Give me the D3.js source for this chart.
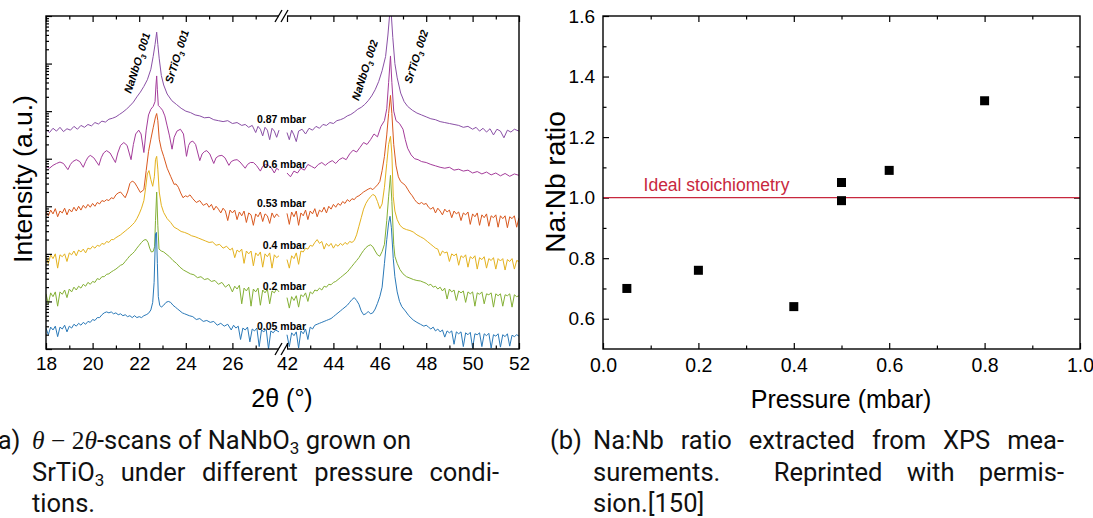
<!DOCTYPE html>
<html>
<head>
<meta charset="utf-8">
<script src="https://cdn.jsdelivr.net/npm/d3@7"></script>
<style>
body { margin: 0; background: #fff; }
svg text { font-family: "Liberation Sans", Arial, sans-serif; fill: #000; }
svg text.cap { font-family: Roboto, "Noto Sans", sans-serif; font-size: 25.5px; fill: #111; }
svg tspan.math { font-family: "Liberation Serif", "DejaVu Serif", serif; font-style: italic; }
</style>
</head>
<body>
<svg id="chart" width="1093" height="518"></svg>
<script>
// scans: [2theta (deg), log10 intensity (a.u.)]
var scan087 = [[18.0,4.62],[18.15,4.55],[18.3,4.64],[18.45,4.58],[18.6,4.66],[18.75,4.57],[18.9,4.63],[19.05,4.60],[19.2,4.68],[19.35,4.62],[19.5,4.70],[19.65,4.66],[19.8,4.72],[19.95,4.69],[20.1,4.76],[20.25,4.73],[20.4,4.79],[20.55,4.77],[20.7,4.83],[20.85,4.85],[21.0,4.88],[21.15,4.93],[21.3,4.98],[21.45,5.04],[21.6,5.11],[21.75,5.19],[21.9,5.30],[22.05,5.40],[22.2,5.52],[22.35,5.66],[22.5,5.88],[22.6,6.15],[22.68,6.40],[22.75,6.66],[22.8,6.40],[22.86,6.10],[22.95,5.75],[23.05,5.55],[23.2,5.36],[23.4,5.22],[23.6,5.14],[23.8,5.06],[24.0,5.00],[24.2,4.97],[24.4,4.92],[24.6,4.90],[24.8,4.86],[25.0,4.87],[25.2,4.82],[25.4,4.80],[25.6,4.78],[25.8,4.80],[26.0,4.74],[26.2,4.76],[26.4,4.70],[26.55,4.72],[26.7,4.66],[26.85,4.70],[27.0,4.55],[27.1,4.68],[27.2,4.62],[27.3,4.48],[27.4,4.66],[27.5,4.60],[27.6,4.40],[27.7,4.64],[27.8,4.58],[27.9,4.45],[28.0,4.60],
  [42.0,4.55],[42.1,4.40],[42.2,4.60],[42.3,4.50],[42.4,4.36],[42.5,4.58],[42.65,4.62],[42.8,4.52],[42.95,4.64],[43.1,4.60],[43.25,4.68],[43.4,4.64],[43.55,4.72],[43.7,4.70],[43.85,4.76],[44.0,4.74],[44.15,4.80],[44.3,4.82],[44.45,4.85],[44.6,4.90],[44.75,4.93],[44.9,4.98],[45.05,5.04],[45.2,5.08],[45.35,5.14],[45.5,5.22],[45.65,5.32],[45.8,5.45],[45.95,5.62],[46.1,5.85],[46.25,6.15],[46.35,6.60],[46.42,7.0],[46.46,7.3],[46.5,7.0],[46.56,6.55],[46.65,6.00],[46.75,5.70],[46.9,5.38],[47.05,5.20],[47.2,5.10],[47.4,5.02],[47.6,4.96],[47.8,4.92],[48.0,4.88],[48.2,4.84],[48.4,4.82],[48.6,4.78],[48.8,4.76],[49.0,4.74],[49.2,4.72],[49.4,4.70],[49.6,4.66],[49.8,4.68],[50.0,4.62],[50.15,4.66],[50.3,4.58],[50.45,4.64],[50.6,4.56],[50.75,4.63],[50.9,4.50],[51.05,4.62],[51.2,4.58],[51.35,4.44],[51.5,4.60],[51.65,4.56],[51.8,4.62],[52.0,4.58]];

var scan06 = [[18.0,3.84],[18.15,3.80],[18.3,3.86],[18.45,3.90],[18.6,3.93],[18.75,3.90],[18.94,3.77],[19.05,3.88],[19.15,3.94],[19.3,3.98],[19.45,3.94],[19.6,3.82],[19.7,3.94],[19.8,4.03],[19.9,4.07],[20.05,4.02],[20.27,3.86],[20.37,4.02],[20.47,4.12],[20.6,4.17],[20.75,4.12],[20.98,3.92],[21.08,4.12],[21.2,4.28],[21.34,4.34],[21.48,4.28],[21.65,3.98],[21.75,4.30],[21.85,4.52],[21.98,4.60],[22.08,4.52],[22.2,4.13],[22.3,4.60],[22.4,4.92],[22.5,5.04],[22.6,5.10],[22.68,5.20],[22.72,5.55],[22.75,5.74],[22.78,5.45],[22.82,5.12],[22.9,5.08],[23.0,5.02],[23.1,4.90],[23.2,4.69],[23.3,4.48],[23.41,4.20],[23.5,4.45],[23.62,4.58],[23.77,4.62],[23.9,4.52],[24.03,4.05],[24.12,4.28],[24.2,4.35],[24.3,4.37],[24.42,4.30],[24.6,3.96],[24.7,4.10],[24.8,4.15],[24.9,4.17],[25.03,4.10],[25.2,3.90],[25.3,4.02],[25.42,4.06],[25.55,4.07],[25.68,4.02],[25.85,3.86],[25.95,3.94],[26.07,3.97],[26.2,3.98],[26.33,3.93],[26.55,3.80],[26.65,3.88],[26.77,3.92],[26.9,3.92],[27.03,3.86],[27.2,3.74],[27.3,3.84],[27.42,3.88],[27.55,3.86],[27.68,3.80],[27.8,3.70],[27.9,3.80],[28.0,3.76],
  [42.0,3.70],[42.15,3.62],[42.3,3.74],[42.45,3.70],[42.6,3.80],[42.75,3.76],[42.9,3.88],[43.05,3.84],[43.2,3.80],[43.35,3.88],[43.5,3.92],[43.65,3.86],[43.8,3.92],[43.95,3.96],[44.1,3.90],[44.25,3.98],[44.4,4.02],[44.55,3.98],[44.7,4.10],[44.85,4.18],[45.0,4.14],[45.15,4.24],[45.3,4.34],[45.45,4.30],[45.6,4.40],[45.75,4.52],[45.9,4.46],[46.05,4.68],[46.2,4.80],[46.3,5.05],[46.38,5.60],[46.46,6.16],[46.52,5.60],[46.6,5.00],[46.7,4.80],[46.85,4.74],[47.0,4.62],[47.1,4.40],[47.2,4.22],[47.35,4.08],[47.5,4.00],[47.65,3.98],[47.8,3.94],[48.0,3.92],[48.2,3.88],[48.4,3.85],[48.6,3.82],[48.8,3.80],[49.0,3.82],[49.2,3.76],[49.4,3.78],[49.6,3.74],[49.8,3.76],[50.0,3.70],[50.2,3.73],[50.4,3.68],[50.6,3.72],[50.8,3.66],[51.0,3.70],[51.2,3.64],[51.4,3.69],[51.6,3.63],[51.8,3.68],[52.0,3.65]];

var scan053 = [[18.0,2.89],[18.1,2.80],[18.2,2.92],[18.3,2.84],[18.4,2.95],[18.5,2.78],[18.6,2.90],[18.7,2.86],[18.8,2.96],[18.9,2.82],[19.0,2.94],[19.1,2.88],[19.2,2.98],[19.3,2.90],[19.4,3.00],[19.5,2.92],[19.6,3.02],[19.7,2.96],[19.8,3.04],[19.9,2.98],[20.0,3.06],[20.1,3.00],[20.2,3.08],[20.3,3.05],[20.4,3.12],[20.5,3.10],[20.6,3.14],[20.7,3.12],[20.8,3.18],[20.9,3.16],[21.0,3.24],[21.1,3.28],[21.2,3.30],[21.3,3.24],[21.4,3.18],[21.5,3.30],[21.6,3.48],[21.7,3.53],[21.8,3.50],[21.9,3.42],[22.05,3.29],[22.2,3.35],[22.3,3.75],[22.4,4.15],[22.5,4.41],[22.6,4.65],[22.7,4.88],[22.75,4.95],[22.8,4.80],[22.86,4.41],[22.95,4.20],[23.05,4.05],[23.2,3.80],[23.35,3.63],[23.5,3.46],[23.58,3.47],[23.68,3.40],[23.78,3.28],[23.88,3.18],[23.98,3.22],[24.08,3.20],[24.18,3.24],[24.3,3.16],[24.45,3.08],[24.6,3.12],[24.75,3.02],[24.9,3.06],[25.0,2.98],[25.1,3.04],[25.2,2.92],[25.3,3.00],[25.4,2.94],[25.5,2.86],[25.6,2.96],[25.7,2.90],[25.8,2.70],[25.9,2.92],[26.0,2.86],[26.1,2.92],[26.2,2.72],[26.3,2.88],[26.4,2.80],[26.5,2.90],[26.6,2.66],[26.7,2.86],[26.8,2.82],[26.9,2.60],[27.0,2.84],[27.1,2.78],[27.2,2.88],[27.3,2.68],[27.4,2.84],[27.5,2.80],[27.6,2.64],[27.7,2.86],[27.8,2.76],[27.9,2.84],[28.0,2.78],
  [42.0,2.85],[42.1,2.62],[42.2,2.88],[42.3,2.78],[42.4,2.90],[42.5,2.60],[42.6,2.86],[42.7,2.80],[42.8,2.92],[42.9,2.72],[43.0,2.90],[43.1,2.84],[43.2,2.95],[43.3,2.78],[43.4,2.92],[43.5,2.88],[43.6,2.98],[43.7,2.86],[43.8,3.00],[43.9,2.94],[44.0,3.04],[44.1,2.98],[44.2,3.06],[44.3,3.02],[44.4,3.10],[44.5,3.06],[44.6,3.14],[44.7,3.10],[44.8,3.16],[44.9,3.14],[45.0,3.20],[45.1,3.22],[45.2,3.26],[45.3,3.30],[45.4,3.33],[45.5,3.36],[45.6,3.38],[45.7,3.35],[45.8,3.40],[45.9,3.45],[46.0,3.52],[46.1,3.75],[46.2,4.05],[46.3,4.50],[46.38,4.95],[46.46,5.33],[46.52,4.95],[46.6,4.30],[46.7,3.85],[46.8,3.62],[46.9,3.52],[47.0,3.48],[47.1,3.44],[47.2,3.36],[47.3,3.28],[47.4,3.22],[47.5,3.14],[47.6,3.08],[47.7,3.05],[47.8,3.08],[47.9,3.04],[48.0,3.06],[48.1,2.98],[48.2,2.94],[48.3,2.98],[48.4,2.86],[48.5,2.96],[48.6,2.90],[48.7,2.82],[48.8,2.94],[48.9,2.88],[49.0,2.92],[49.1,2.76],[49.2,2.90],[49.3,2.84],[49.4,2.88],[49.5,2.70],[49.6,2.86],[49.7,2.82],[49.8,2.88],[49.9,2.62],[50.0,2.84],[50.1,2.78],[50.2,2.86],[50.3,2.60],[50.4,2.82],[50.5,2.76],[50.6,2.84],[50.7,2.58],[50.8,2.80],[50.9,2.76],[51.0,2.82],[51.1,2.56],[51.2,2.80],[51.3,2.74],[51.4,2.80],[51.5,2.55],[51.6,2.78],[51.7,2.74],[51.8,2.80],[51.9,2.56],[52.0,2.76]];

var scan04 = [[18.0,1.96],[18.1,1.80],[18.2,1.98],[18.3,1.90],[18.4,2.00],[18.5,1.70],[18.6,1.98],[18.7,1.94],[18.8,2.00],[18.9,1.84],[19.0,2.02],[19.1,1.98],[19.2,2.06],[19.3,1.96],[19.4,2.08],[19.5,2.04],[19.6,2.10],[19.7,2.02],[19.8,2.12],[19.9,2.10],[20.0,2.16],[20.1,2.12],[20.2,2.18],[20.3,2.16],[20.4,2.22],[20.5,2.20],[20.6,2.26],[20.7,2.24],[20.8,2.30],[20.9,2.30],[21.0,2.34],[21.1,2.37],[21.2,2.40],[21.3,2.44],[21.4,2.48],[21.5,2.52],[21.6,2.56],[21.7,2.61],[21.8,2.66],[21.9,2.74],[22.0,2.84],[22.1,2.96],[22.2,3.12],[22.28,3.40],[22.35,3.68],[22.42,3.75],[22.5,3.56],[22.58,3.42],[22.65,3.62],[22.7,3.98],[22.75,4.05],[22.8,3.78],[22.86,3.30],[22.95,3.02],[23.05,2.87],[23.2,2.74],[23.35,2.66],[23.5,2.56],[23.65,2.52],[23.8,2.47],[23.95,2.45],[24.1,2.42],[24.25,2.38],[24.4,2.36],[24.55,2.33],[24.7,2.30],[24.85,2.27],[25.0,2.24],[25.15,2.25],[25.3,2.18],[25.45,2.20],[25.6,2.12],[25.75,2.16],[25.9,2.08],[26.0,2.12],[26.1,1.92],[26.2,2.08],[26.3,2.04],[26.4,2.10],[26.5,1.80],[26.6,2.06],[26.7,2.00],[26.8,2.06],[26.9,1.75],[27.0,2.02],[27.1,1.96],[27.2,2.04],[27.3,1.72],[27.4,2.00],[27.5,1.94],[27.6,2.02],[27.7,1.70],[27.8,1.98],[27.9,1.92],[28.0,1.96],
  [42.0,1.88],[42.1,1.70],[42.2,1.96],[42.3,1.90],[42.4,2.02],[42.5,1.78],[42.6,2.06],[42.7,2.04],[42.8,2.12],[42.9,2.10],[43.0,2.18],[43.1,2.16],[43.2,2.24],[43.3,2.30],[43.4,2.22],[43.5,2.26],[43.6,2.10],[43.7,2.22],[43.8,2.16],[43.9,2.22],[44.0,2.12],[44.1,2.20],[44.2,2.16],[44.3,2.22],[44.4,2.18],[44.5,2.24],[44.6,2.20],[44.7,2.26],[44.8,2.24],[44.9,2.28],[45.0,2.40],[45.1,2.58],[45.2,2.76],[45.3,2.94],[45.4,3.06],[45.5,3.14],[45.6,3.20],[45.7,3.25],[45.8,3.22],[45.9,3.10],[46.0,2.95],[46.1,3.05],[46.2,3.40],[46.3,3.90],[46.38,4.30],[46.46,4.47],[46.52,4.10],[46.58,3.20],[46.65,2.90],[46.75,2.72],[46.87,2.60],[47.0,2.54],[47.15,2.51],[47.3,2.49],[47.44,2.46],[47.6,2.40],[47.75,2.36],[47.9,2.32],[48.05,2.26],[48.2,2.20],[48.3,2.16],[48.4,2.12],[48.5,2.10],[48.6,1.96],[48.7,2.06],[48.8,2.02],[48.9,2.04],[49.0,1.84],[49.1,2.00],[49.2,1.96],[49.3,2.00],[49.4,1.76],[49.5,1.96],[49.6,1.92],[49.7,1.98],[49.8,1.72],[49.9,1.94],[50.0,1.90],[50.1,1.96],[50.2,1.68],[50.3,1.92],[50.4,1.88],[50.5,1.94],[50.6,1.70],[50.7,1.90],[50.8,1.86],[50.9,1.92],[51.0,1.68],[51.1,1.90],[51.2,1.85],[51.3,1.90],[51.4,1.66],[51.5,1.88],[51.6,1.84],[51.7,1.90],[51.8,1.68],[51.9,1.86],[52.0,1.84]];

var scan02 = [[18.0,1.16],[18.1,0.95],[18.2,1.18],[18.3,1.10],[18.4,1.20],[18.5,0.90],[18.6,1.20],[18.7,1.15],[18.8,1.24],[18.9,1.08],[19.0,1.26],[19.1,1.20],[19.2,1.30],[19.3,1.24],[19.4,1.32],[19.5,1.28],[19.6,1.36],[19.7,1.32],[19.8,1.40],[19.9,1.36],[20.0,1.42],[20.1,1.40],[20.2,1.48],[20.3,1.46],[20.4,1.52],[20.5,1.52],[20.6,1.57],[20.7,1.58],[20.8,1.62],[20.9,1.65],[21.0,1.68],[21.1,1.72],[21.2,1.76],[21.3,1.78],[21.4,1.84],[21.5,1.90],[21.6,1.96],[21.7,2.00],[21.8,2.05],[21.9,2.12],[22.0,2.18],[22.1,2.24],[22.2,2.29],[22.3,2.30],[22.38,2.24],[22.45,2.12],[22.52,2.04],[22.6,2.05],[22.66,2.15],[22.7,2.70],[22.75,3.30],[22.8,2.60],[22.85,2.10],[22.95,2.06],[23.05,2.04],[23.15,2.00],[23.3,1.94],[23.45,1.86],[23.6,1.80],[23.75,1.72],[23.9,1.66],[24.05,1.62],[24.2,1.58],[24.35,1.56],[24.5,1.50],[24.65,1.52],[24.8,1.46],[24.95,1.48],[25.1,1.42],[25.25,1.44],[25.4,1.36],[25.55,1.40],[25.7,1.30],[25.85,1.36],[26.0,1.20],[26.1,1.32],[26.2,1.26],[26.3,1.34],[26.4,0.95],[26.5,1.28],[26.6,1.22],[26.7,1.30],[26.8,0.90],[26.9,1.26],[27.0,1.20],[27.1,1.28],[27.2,0.92],[27.3,1.24],[27.4,1.18],[27.5,1.26],[27.6,0.95],[27.7,1.22],[27.8,1.18],[27.9,1.26],[28.0,1.20],
  [42.0,1.08],[42.1,0.86],[42.2,1.10],[42.3,1.02],[42.4,1.12],[42.5,0.88],[42.6,1.14],[42.7,1.10],[42.8,1.18],[42.9,1.00],[43.0,1.20],[43.1,1.16],[43.2,1.24],[43.3,1.22],[43.4,1.28],[43.5,1.24],[43.6,1.32],[43.7,1.30],[43.8,1.36],[43.9,1.35],[44.0,1.40],[44.1,1.42],[44.2,1.46],[44.3,1.50],[44.4,1.54],[44.5,1.58],[44.6,1.62],[44.7,1.68],[44.8,1.74],[44.9,1.80],[45.0,1.86],[45.1,1.92],[45.2,2.00],[45.3,2.07],[45.4,2.13],[45.5,2.17],[45.6,2.19],[45.7,2.15],[45.8,2.06],[45.9,1.98],[46.0,1.95],[46.1,2.05],[46.2,2.20],[46.3,2.70],[46.38,3.20],[46.46,3.65],[46.52,3.10],[46.6,2.20],[46.65,1.95],[46.75,1.80],[46.87,1.67],[47.0,1.58],[47.15,1.52],[47.3,1.49],[47.45,1.46],[47.6,1.44],[47.75,1.43],[47.9,1.40],[48.0,1.38],[48.1,1.34],[48.2,1.36],[48.3,1.30],[48.4,1.32],[48.5,1.26],[48.6,1.30],[48.7,1.22],[48.8,1.28],[48.9,1.05],[49.0,1.26],[49.1,1.20],[49.2,1.24],[49.3,1.02],[49.4,1.22],[49.5,1.18],[49.6,1.22],[49.7,0.98],[49.8,1.20],[49.9,1.16],[50.0,1.20],[50.1,0.90],[50.2,1.18],[50.3,1.15],[50.4,1.20],[50.5,0.95],[50.6,1.16],[50.7,1.14],[50.8,1.18],[50.9,0.88],[51.0,1.16],[51.1,1.12],[51.2,1.16],[51.3,0.90],[51.4,1.14],[51.5,1.12],[51.6,1.16],[51.7,0.88],[51.8,1.14],[51.9,1.10],[52.0,1.12]];

var scan005 = [[18.0,0.44],[18.1,0.30],[18.2,0.46],[18.3,0.40],[18.4,0.48],[18.5,0.26],[18.6,0.46],[18.7,0.42],[18.8,0.50],[18.9,0.36],[19.0,0.48],[19.1,0.44],[19.2,0.52],[19.3,0.48],[19.4,0.54],[19.5,0.50],[19.6,0.56],[19.7,0.52],[19.8,0.58],[19.9,0.56],[20.0,0.62],[20.1,0.60],[20.2,0.66],[20.3,0.66],[20.4,0.72],[20.5,0.76],[20.6,0.78],[20.7,0.76],[20.8,0.78],[20.9,0.74],[21.0,0.76],[21.1,0.72],[21.2,0.74],[21.3,0.70],[21.4,0.72],[21.5,0.68],[21.6,0.70],[21.7,0.66],[21.8,0.70],[21.9,0.66],[22.0,0.68],[22.1,0.66],[22.2,0.70],[22.3,0.72],[22.4,0.75],[22.5,0.82],[22.58,0.98],[22.64,1.40],[22.7,2.42],[22.74,2.45],[22.78,1.80],[22.82,1.10],[22.88,0.92],[22.95,0.88],[23.05,0.92],[23.15,0.98],[23.25,1.00],[23.35,0.98],[23.45,0.92],[23.55,0.88],[23.65,0.84],[23.75,0.80],[23.85,0.76],[23.95,0.74],[24.05,0.72],[24.15,0.70],[24.3,0.68],[24.45,0.62],[24.6,0.64],[24.75,0.58],[24.9,0.60],[25.05,0.56],[25.2,0.58],[25.35,0.50],[25.5,0.54],[25.65,0.48],[25.8,0.52],[25.95,0.40],[26.05,0.50],[26.15,0.44],[26.25,0.48],[26.35,0.20],[26.45,0.44],[26.55,0.40],[26.65,0.46],[26.75,0.15],[26.85,0.42],[26.95,0.38],[27.05,0.44],[27.15,0.05],[27.25,0.40],[27.35,0.36],[27.45,0.42],[27.55,0.00],[27.65,0.38],[27.75,0.34],[27.85,0.40],[28.0,0.36],
  [42.0,0.30],[42.1,0.05],[42.2,0.34],[42.3,0.28],[42.4,0.36],[42.5,0.02],[42.6,0.38],[42.7,0.32],[42.8,0.42],[42.9,0.20],[43.0,0.46],[43.1,0.42],[43.2,0.50],[43.3,0.52],[43.4,0.54],[43.5,0.56],[43.6,0.58],[43.7,0.60],[43.8,0.62],[43.9,0.64],[44.0,0.68],[44.1,0.72],[44.2,0.76],[44.3,0.80],[44.4,0.84],[44.5,0.88],[44.6,0.92],[44.7,0.98],[44.8,1.04],[44.9,1.08],[45.0,1.02],[45.1,0.94],[45.2,0.80],[45.3,0.72],[45.4,0.74],[45.5,0.79],[45.6,0.74],[45.7,0.76],[45.8,0.84],[45.9,0.96],[46.0,1.10],[46.1,1.30],[46.2,1.80],[46.3,2.30],[46.38,2.65],[46.44,2.79],[46.5,2.55],[46.58,1.90],[46.65,1.52],[46.75,1.20],[46.85,1.00],[46.95,0.89],[47.1,0.80],[47.25,0.70],[47.44,0.61],[47.6,0.56],[47.75,0.52],[47.9,0.48],[48.0,0.50],[48.1,0.46],[48.2,0.42],[48.3,0.46],[48.4,0.38],[48.5,0.42],[48.6,0.36],[48.7,0.40],[48.8,0.25],[48.9,0.38],[49.0,0.34],[49.1,0.38],[49.2,0.10],[49.3,0.36],[49.4,0.32],[49.5,0.36],[49.6,0.05],[49.7,0.34],[49.8,0.30],[49.9,0.35],[50.0,0.02],[50.1,0.32],[50.2,0.30],[50.3,0.34],[50.4,0.05],[50.5,0.32],[50.6,0.28],[50.7,0.33],[50.8,0.02],[50.9,0.30],[51.0,0.27],[51.1,0.32],[51.2,0.04],[51.3,0.30],[51.4,0.26],[51.5,0.32],[51.6,0.06],[51.7,0.29],[51.8,0.26],[51.9,0.30],[52.0,0.27]];

var scans        = [scan087, scan06, scan053, scan04, scan02, scan005];
var scanNames    = ["0.87 mbar", "0.6 mbar", "0.53 mbar", "0.4 mbar", "0.2 mbar", "0.05 mbar"];
var scanColors   = ["#8a50a6", "#a43c9a", "#d9581e", "#e4b21e", "#84b035", "#2a79b8"];
var nameLevels   = [4.83, 3.88, 3.06, 2.19, 1.33, 0.48];

var peakNames    = ["NaNbO", "SrTiO", "NaNbO", "SrTiO"];
var peakOrders   = ["001", "001", "002", "002"];
var peakAngles   = [21.65, 23.41, 45.09, 47.36];
var peakLevels   = [5.36, 5.57, 5.21, 5.57];

// XPS Na:Nb ratio
var xpsPressure  = [0.05, 0.2, 0.4, 0.5, 0.5, 0.6, 0.8];
var xpsRatio     = [0.70, 0.76, 0.64, 1.05, 0.99, 1.09, 1.32];
var idealRatio   = 1.0;

var svg = d3.select("#chart");

// ---------------------------------------------------------------
// left panel: XRD scans, broken x axis
var yTop = 16, yBot = 349;
var xLo = d3.scaleLinear().domain([18, 28]).range([46, 279]);
var xHi = d3.scaleLinear().domain([42, 52]).range([287, 519]);
var yI  = d3.scaleLog().domain([1, 1e7]).range([yBot, yTop]);
function xAt(t) { return t < 35 ? xLo(t) : xHi(t); }

svg.append("clipPath").attr("id", "clipL")
    .append("rect").attr("x", 46).attr("y", yTop).attr("width", 473).attr("height", yBot - yTop);

var line = d3.line()
    .x(function(d) { return xAt(d[0]); })
    .y(function(d) { return yI(Math.pow(10, d[1])); });

var plot = svg.append("g").attr("clip-path", "url(#clipL)");
scans.forEach(function(s, i) {
    var lo = s.filter(function(d) { return d[0] <= 28; }),
        hi = s.filter(function(d) { return d[0] >= 42; });
    [lo, hi].forEach(function(part) {
        plot.append("path")
            .attr("d", line(part))
            .attr("fill", "none")
            .attr("stroke", scanColors[i])
            .attr("stroke-width", 1)
            .attr("stroke-linejoin", "round");
    });
});

// pressure labels, right aligned at the axis break
svg.selectAll("text.pl")
    .data(scanNames)
    .enter().append("text")
    .attr("class", "pl")
    .attr("x", 306)
    .attr("y", function(d, i) { return yI(Math.pow(10, nameLevels[i])) + 4; })
    .attr("text-anchor", "end")
    .style("font-size", "10.5px")
    .style("font-weight", "bold")
    .text(function(d) { return d; });

// reflection labels
peakNames.forEach(function(n, i) {
    var t = svg.append("text")
        .attr("transform", "translate(" + xAt(peakAngles[i]) + "," + yI(Math.pow(10, peakLevels[i])) + ") rotate(-72)")
        .style("font-size", "11px")
        .style("font-weight", "bold")
        .style("font-style", "italic");
    t.append("tspan").text(n);
    t.append("tspan").attr("dy", 3).style("font-size", "7.5px").text("3");
    t.append("tspan").attr("dy", -3).text(" " + peakOrders[i]);
});

function styleAxis(g) {
    g.select(".domain").remove();
    g.selectAll(".tick line").attr("stroke", "#000").attr("stroke-width", 1.2);
    g.selectAll(".tick text").attr("fill", "#000");
}

[[xLo, [18, 20, 22, 24, 26], [19, 21, 23, 25, 27]],
 [xHi, [42, 44, 46, 48, 50, 52], [43, 45, 47, 49, 51]]].forEach(function(a) {
    svg.append("g").attr("transform", "translate(0," + yBot + ")")
        .call(d3.axisBottom(a[0]).tickValues(a[1]).tickSize(-6).tickPadding(8).tickFormat(d3.format("d")))
        .call(styleAxis)
        .selectAll("text").style("font-size", "19px");
    svg.append("g").attr("transform", "translate(0," + yBot + ")")
        .call(d3.axisBottom(a[0]).tickValues(a[2]).tickSize(-3.5).tickFormat(""))
        .call(styleAxis);
    svg.append("g").attr("transform", "translate(0," + yTop + ")")
        .call(d3.axisTop(a[0]).tickValues(a[1]).tickSize(-6).tickFormat(""))
        .call(styleAxis);
    svg.append("g").attr("transform", "translate(0," + yTop + ")")
        .call(d3.axisTop(a[0]).tickValues(a[2]).tickSize(-3.5).tickFormat(""))
        .call(styleAxis);
});

var decades = d3.range(0, 8).map(function(k) { return Math.pow(10, k); });
var subTicks = [];
d3.range(0, 7).forEach(function(k) { d3.range(2, 10).forEach(function(m) { subTicks.push(m * Math.pow(10, k)); }); });
svg.append("g").attr("transform", "translate(46,0)")
    .call(d3.axisLeft(yI).tickValues(decades).tickSize(-6).tickFormat(""))
    .call(styleAxis);
svg.append("g").attr("transform", "translate(46,0)")
    .call(d3.axisLeft(yI).tickValues(subTicks).tickSize(-3).tickFormat(""))
    .call(styleAxis);

svg.append("rect")
    .attr("x", 46).attr("y", yTop).attr("width", 473).attr("height", yBot - yTop)
    .attr("fill", "none").attr("stroke", "#000").attr("stroke-width", 1.4);

// axis break marks
[yTop, yBot].forEach(function(yy) {
    svg.append("rect").attr("x", 279).attr("y", yy - 2).attr("width", 8).attr("height", 4).attr("fill", "#fff");
    [-5, 1].forEach(function(dx) {
        svg.append("line")
            .attr("x1", 283 + dx - 3).attr("y1", yy + 6)
            .attr("x2", 283 + dx + 4).attr("y2", yy - 6)
            .attr("stroke", "#000").attr("stroke-width", 1.3);
    });
});

svg.append("text")
    .attr("x", 282).attr("y", 407)
    .attr("text-anchor", "middle")
    .style("font-size", "25px")
    .text("2\u03b8 (\u00b0)");

svg.append("text")
    .attr("transform", "translate(32,179) rotate(-90)")
    .attr("text-anchor", "middle")
    .style("font-size", "26.5px")
    .text("Intensity (a.u.)");

// ---------------------------------------------------------------
// right panel: Na:Nb ratio vs pressure
var xP = d3.scaleLinear().domain([0, 1]).range([603, 1080]);
var yR = d3.scaleLinear().domain([0.5, 1.6]).range([yBot, yTop]);

svg.append("g").attr("transform", "translate(0," + yBot + ")")
    .call(d3.axisBottom(xP).tickValues([0, 0.2, 0.4, 0.6, 0.8, 1.0]).tickSize(-6).tickPadding(9).tickFormat(d3.format(".1f")))
    .call(styleAxis)
    .selectAll("text").style("font-size", "19.5px");
svg.append("g").attr("transform", "translate(0," + yBot + ")")
    .call(d3.axisBottom(xP).tickValues([0.1, 0.3, 0.5, 0.7, 0.9]).tickSize(-3.5).tickFormat(""))
    .call(styleAxis);
svg.append("g").attr("transform", "translate(0," + yTop + ")")
    .call(d3.axisTop(xP).tickValues([0.2, 0.4, 0.6, 0.8]).tickSize(-6).tickFormat(""))
    .call(styleAxis);
svg.append("g").attr("transform", "translate(0," + yTop + ")")
    .call(d3.axisTop(xP).tickValues([0.1, 0.3, 0.5, 0.7, 0.9]).tickSize(-3.5).tickFormat(""))
    .call(styleAxis);

svg.append("g").attr("transform", "translate(603,0)")
    .call(d3.axisLeft(yR).tickValues([0.6, 0.8, 1.0, 1.2, 1.4, 1.6]).tickSize(-6).tickPadding(8).tickFormat(d3.format(".1f")))
    .call(styleAxis)
    .selectAll("text").style("font-size", "19px");
svg.append("g").attr("transform", "translate(603,0)")
    .call(d3.axisLeft(yR).tickValues([0.7, 0.9, 1.1, 1.3, 1.5]).tickSize(-3.5).tickFormat(""))
    .call(styleAxis);
svg.append("g").attr("transform", "translate(1080,0)")
    .call(d3.axisRight(yR).tickValues([0.6, 0.8, 1.0, 1.2, 1.4]).tickSize(-6).tickFormat(""))
    .call(styleAxis);
svg.append("g").attr("transform", "translate(1080,0)")
    .call(d3.axisRight(yR).tickValues([0.7, 0.9, 1.1, 1.3, 1.5]).tickSize(-3.5).tickFormat(""))
    .call(styleAxis);

svg.append("line")
    .attr("x1", xP(0)).attr("x2", xP(1))
    .attr("y1", yR(idealRatio)).attr("y2", yR(idealRatio))
    .attr("stroke", "#c8283e").attr("stroke-width", 1.3);
svg.append("text")
    .attr("x", xP(0.085)).attr("y", yR(idealRatio) - 7)
    .style("font-size", "17.5px")
    .style("fill", "#c8283e")
    .text("Ideal stoichiometry");

svg.selectAll("rect.pt")
    .data(xpsPressure)
    .enter().append("rect")
    .attr("class", "pt")
    .attr("x", function(d) { return xP(d) - 4.5; })
    .attr("y", function(d, i) { return yR(xpsRatio[i]) - 4.5; })
    .attr("width", 9).attr("height", 9)
    .attr("fill", "#000");

svg.append("rect")
    .attr("x", 603).attr("y", yTop).attr("width", 477).attr("height", yBot - yTop)
    .attr("fill", "none").attr("stroke", "#000").attr("stroke-width", 1.4);

svg.append("text")
    .attr("x", 841).attr("y", 408)
    .attr("text-anchor", "middle")
    .style("font-size", "25px")
    .text("Pressure (mbar)");

svg.append("text")
    .attr("transform", "translate(565,182) rotate(-90)")
    .attr("text-anchor", "middle")
    .style("font-size", "28px")
    .text("Na:Nb ratio");

// ---------------------------------------------------------------
// captions
function justify(t, x0, x1) {
    var w = t.node().getComputedTextLength();
    var n = (t.node().textContent.match(/ /g) || []).length;
    if (n) t.attr("word-spacing", (x1 - x0 - w) / n);
}
function sub(t, s) {
    t.append("tspan").attr("dy", 5).style("font-size", "17px").text(s);
    return t.append("tspan").attr("dy", -5);
}

svg.append("text").attr("class", "cap").attr("x", -11).attr("y", 449).text("(a)");
var a1 = svg.append("text").attr("class", "cap").attr("x", 32).attr("y", 449);
a1.append("tspan").attr("class", "math").text("\u03b8");
a1.append("tspan").attr("class", "math").style("font-style", "normal").text(" \u2212 2");
a1.append("tspan").attr("class", "math").text("\u03b8");
a1.append("tspan").text("-scans of NaNbO");
sub(a1, "3").text(" grown on");

var a2 = svg.append("text").attr("class", "cap").attr("x", 32).attr("y", 481);
a2.append("tspan").text("SrTiO");
sub(a2, "3").text(" under different pressure condi-");
justify(a2, 32, 499);

svg.append("text").attr("class", "cap").attr("x", 32).attr("y", 512).text("tions.");

svg.append("text").attr("class", "cap").attr("x", 550).attr("y", 449).text("(b)");
var b1 = svg.append("text").attr("class", "cap").attr("x", 593).attr("y", 449)
    .text("Na:Nb ratio extracted from XPS mea-");
justify(b1, 593, 1064);

// second line: wider sentence gap after the full stop
var words = ["surements.", "Reprinted", "with", "permis-"], gapW = [2.2, 1, 1];
var ws = words.map(function(w) {
    return svg.append("text").attr("class", "cap").attr("y", 481).text(w);
});
var total = d3.sum(ws, function(t) { return t.node().getComputedTextLength(); });
var unit = (1064 - 593 - total) / d3.sum(gapW);
var cx = 593;
ws.forEach(function(t, i) {
    t.attr("x", cx);
    cx += t.node().getComputedTextLength() + (i < gapW.length ? gapW[i] * unit : 0);
});

svg.append("text").attr("class", "cap").attr("x", 593).attr("y", 512).text("sion.[150]");
</script>
</body>
</html>
